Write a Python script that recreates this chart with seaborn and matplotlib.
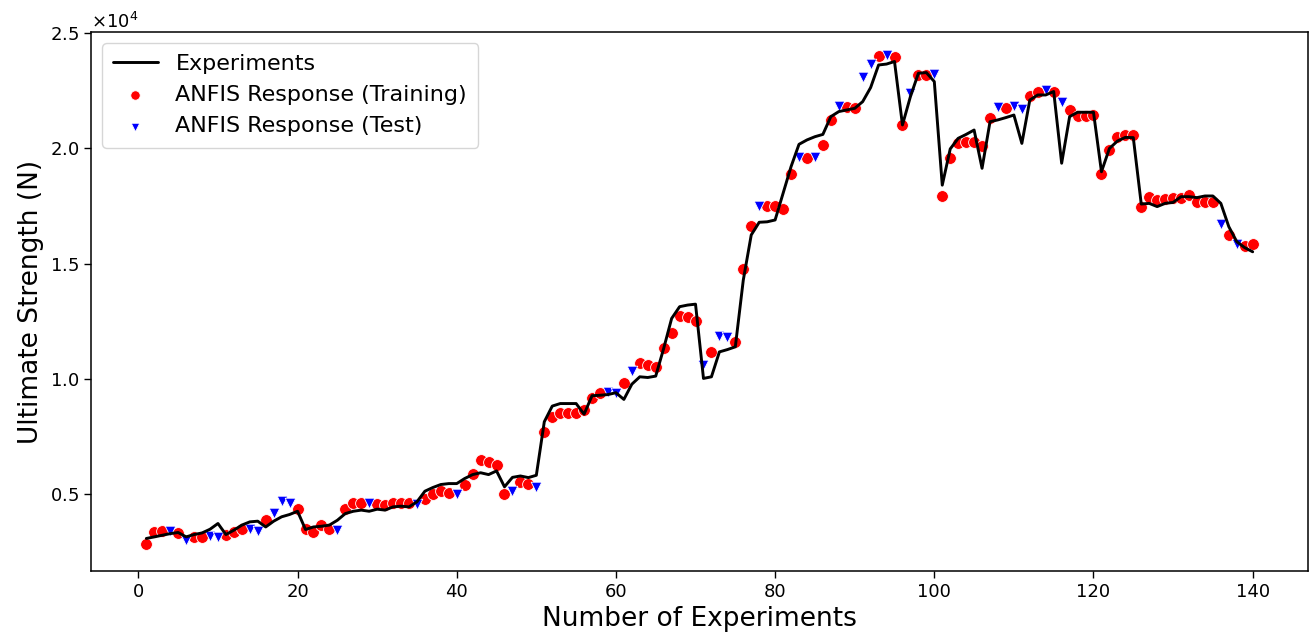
import numpy as np
import pandas as pd
import matplotlib
matplotlib.use("Agg")
import matplotlib.pyplot as plt
import seaborn as sns

# ---------------- data (values in units of 1e4 N) ----------------
exp_x = list(range(1, 141))
exp_v = [
    0.308, 0.315, 0.322, 0.329, 0.334, 0.315, 0.325, 0.332, 0.348, 0.373,
    0.325, 0.344, 0.366, 0.380, 0.383, 0.358, 0.383, 0.402, 0.412, 0.426,
    0.347, 0.358, 0.361, 0.366, 0.387, 0.416, 0.426, 0.431, 0.426, 0.435,
    0.431, 0.445, 0.448, 0.445, 0.467, 0.513, 0.529, 0.542, 0.546, 0.546,
    0.568, 0.585, 0.593, 0.585, 0.601, 0.532, 0.573, 0.579, 0.572, 0.582,
    0.814, 0.882, 0.893, 0.893, 0.893, 0.847, 0.927, 0.929, 0.932, 0.940,
    0.911, 0.977, 1.009, 1.006, 1.012, 1.132, 1.262, 1.313, 1.320, 1.324,
    1.002, 1.009, 1.117, 1.127, 1.139, 1.428, 1.624, 1.679, 1.681, 1.689,
    1.804, 1.920, 2.017, 2.036, 2.050, 2.060, 2.137, 2.159, 2.166, 2.173,
    2.202, 2.263, 2.361, 2.365, 2.376, 2.101, 2.224, 2.325, 2.328, 2.289,
    1.840, 1.997, 2.043, 2.060, 2.079, 1.913, 2.115, 2.123, 2.133, 2.144,
    2.021, 2.209, 2.231, 2.231, 2.246, 1.935, 2.137, 2.156, 2.156, 2.156,
    1.898, 1.999, 2.031, 2.047, 2.046, 1.758, 1.761, 1.747, 1.761, 1.765,
    1.790, 1.790, 1.786, 1.793, 1.793, 1.761, 1.660, 1.595, 1.569, 1.551,
]

train_x = [1, 2, 3, 5, 7, 8, 11, 12, 13, 16, 20, 21, 22, 23, 24, 26, 27, 28, 30,
           31, 32, 33, 34, 36, 37, 38, 39, 41, 42, 43, 44, 45, 46, 48, 49, 51, 52,
           53, 54, 55, 56, 57, 58, 61, 63, 64, 65, 66, 67, 68, 69, 70, 72, 75, 76,
           77, 79, 80, 81, 82, 84, 86, 87, 89, 90, 93, 95, 96, 98, 99, 101, 102,
           103, 104, 105, 106, 107, 109, 112, 113, 115, 117, 118, 119, 120, 121,
           122, 123, 124, 125, 126, 127, 128, 129, 130, 131, 132, 133, 134, 135,
           137, 139, 140]
train_v = [0.286, 0.334, 0.339, 0.332, 0.315, 0.315, 0.322, 0.334, 0.348, 0.387,
           0.436, 0.351, 0.337, 0.368, 0.348, 0.435, 0.462, 0.460, 0.457, 0.452,
           0.464, 0.464, 0.460, 0.481, 0.499, 0.513, 0.507, 0.539, 0.587, 0.650,
           0.640, 0.626, 0.499, 0.553, 0.546, 0.768, 0.835, 0.854, 0.854, 0.854,
           0.864, 0.915, 0.940, 0.980, 1.067, 1.060, 1.050, 1.132, 1.201, 1.272,
           1.270, 1.250, 1.115, 1.161, 1.476, 1.663, 1.751, 1.751, 1.735, 1.887,
           1.956, 2.014, 2.123, 2.180, 2.173, 2.402, 2.395, 2.100, 2.318, 2.318,
           1.794, 1.959, 2.021, 2.029, 2.029, 2.010, 2.133, 2.176, 2.227, 2.243,
           2.246, 2.166, 2.140, 2.140, 2.144, 1.887, 1.992, 2.050, 2.057, 2.057,
           1.747, 1.790, 1.775, 1.778, 1.783, 1.783, 1.797, 1.765, 1.765, 1.768,
           1.624, 1.577, 1.583]

test_x = [4, 6, 9, 10, 14, 15, 17, 18, 19, 25, 29, 35, 40, 47, 50, 59, 60, 62, 71,
          73, 74, 78, 83, 85, 88, 91, 92, 94, 97, 100, 108, 110, 111, 114, 116,
          136, 138]
test_v = [0.339, 0.300, 0.318, 0.315, 0.351, 0.341, 0.419, 0.471, 0.462, 0.344,
          0.462, 0.457, 0.503, 0.516, 0.532, 0.941, 0.937, 1.034, 1.060, 1.187,
          1.183, 1.751, 1.961, 1.961, 2.183, 2.310, 2.365, 2.405, 2.238, 2.321,
          2.180, 2.185, 2.169, 2.253, 2.199, 1.670, 1.583]

SCALE = 1e4
exp_y = [v * SCALE for v in exp_v]
train_y = [v * SCALE for v in train_v]
test_y = [v * SCALE for v in test_v]

# ---------------- plot ----------------
sns.set_style("ticks")
plt.rcParams['font.family'] = ['DejaVu Sans']
plt.rcParams.update({
    "text.color": "black",
    "axes.labelcolor": "black",
    "xtick.color": "black",
    "ytick.color": "black",
    "axes.edgecolor": "black",
})

W, H = 1310, 634
fig = plt.figure(figsize=(W / 100, H / 100), dpi=100)
ax = fig.add_axes([91 / W, 1 - 571 / H, (1308 - 91) / W, (571 - 32) / H])

sns.lineplot(x=exp_x, y=exp_y, color="black", linewidth=2.1,
             label="Experiments", ax=ax, zorder=3)
sns.scatterplot(x=train_x, y=train_y, color="red", marker="o", s=72,
                edgecolor="white", linewidth=0.6,
                label="ANFIS Response (Training)", ax=ax, zorder=2)
sns.scatterplot(x=test_x, y=test_y, color="blue", marker="v", s=58,
                edgecolor="white", linewidth=0.6,
                label="ANFIS Response (Test)", ax=ax, zorder=2)

ax.set_xlim(-5.95, 146.95)
ax.set_ylim(0.167 * SCALE, 2.504 * SCALE)
ax.set_xticks([0, 20, 40, 60, 80, 100, 120, 140])
ax.set_yticks([0.5e4, 1.0e4, 1.5e4, 2.0e4, 2.5e4])
ax.ticklabel_format(axis="y", style="sci", scilimits=(4, 4), useMathText=True)
ax.yaxis.get_offset_text().set_fontsize(13)

ax.set_xlabel("Number of Experiments", fontsize=19)
ax.set_ylabel("Ultimate Strength (N)", fontsize=19)
ax.tick_params(axis="both", labelsize=13, length=5, width=1, color="black")
for sp in ax.spines.values():
    sp.set_color("black")
    sp.set_linewidth(1.1)

leg = ax.legend(loc="upper left", fontsize=16, frameon=True, borderpad=0.5,
                markerscale=0.8)
leg.get_frame().set_edgecolor("#cccccc")
for t in leg.get_texts():
    t.set_color("black")

fig.savefig("out.png", dpi=100)
